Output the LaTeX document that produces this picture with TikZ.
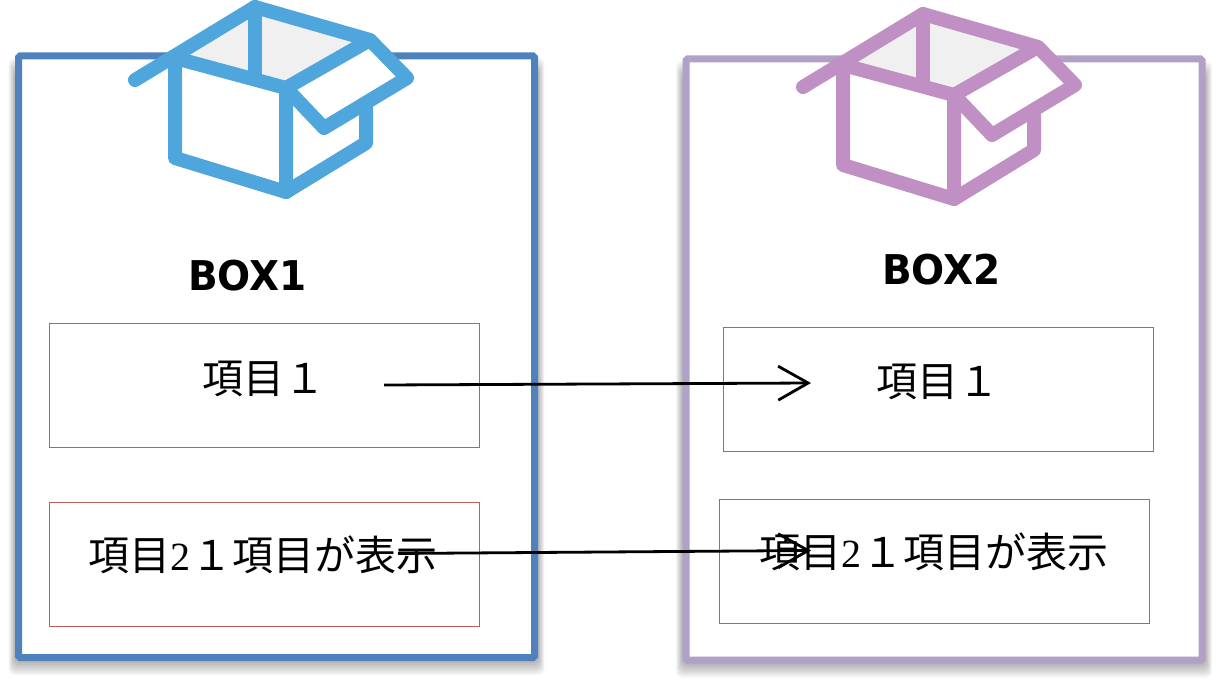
\documentclass[tikz,border=0pt]{standalone}
\usepackage{fontspec}
\usepackage{graphicx}
\usetikzlibrary{arrows.meta}
\newfontfamily\cjk{Noto Sans CJK JP}
\newfontfamily\numfont{Liberation Serif}
\newfontfamily\labfont{DejaVu Sans}
\definecolor{boxblue}{HTML}{4F81BD}
\definecolor{boxpurple}{HTML}{B1A0C7}
\definecolor{icoblue}{HTML}{4EA6DC}
\definecolor{icopink}{HTML}{C090C4}
\definecolor{lid}{HTML}{F0F0F0}
\definecolor{thinred}{HTML}{BD5F5B}
\newcommand{\cardbox}[5]{% x0 y0 x1 y1 colour
  \foreach \w in {2,4,...,14}{
    \fill[black,opacity=.045,rounded corners=6pt]
      (#1-3.5-.45*\w,#2+16-\w) rectangle (#3+3.5+.45*\w,#4+3.5+\w);}
  \draw[draw=#5,fill=white,line width=7pt,rounded corners=1.5pt] (#1,#2) rectangle (#3,#4);}
\newcommand{\boxicon}[3]{% dx dy colour
  \begin{scope}[shift={(#1,#2)},line width=14pt,draw=#3,line join=round,line cap=round]
    \fill[white] (175,58)--(255,7)--(370,40)--(407,78)--(366,104)--(366,143)--(286,192)--(175,158)--cycle;
    \fill[lid] (175,58)--(255,7)--(370,40)--(287,88)--cycle;
    \draw (135,80)--(255,7)--(370,40)--(407,78)--(324,128)--(286,88)--(370,40);
    \draw (255,7)--(255,75);
    \draw (175,58)--(286,88)--(286,192);
    \draw (175,58)--(175,158)--(286,192)--(366,143)--(366,108);
  \end{scope}}
\tikzset{
  itembox/.style={draw=thinred,line width=1pt,fill=none,inner sep=0pt,minimum width=430pt,minimum height=123.5pt,anchor=north west},
  itemtext/.style={inner sep=0pt,anchor=base west,font=\cjk\fontsize{41}{41}\selectfont},
  boxtitle/.style={inner sep=0pt,anchor=base west,font=\labfont\bfseries\fontsize{41}{41}\selectfont},
  flow/.style={line width=2.8pt,-{Straight Barb[length=30pt,width=34pt,line width=2.8pt]}}
}
\newcommand{\itemtwo}{項目\makebox[21pt]{\numfont\fontsize{40}{40}\selectfont 2}１項目が表示}
\begin{document}
\begin{tikzpicture}[x=1pt,y=-1pt]
  \useasboundingbox (0,0) rectangle (1220,687);
  \fill[white] (0,0) rectangle (1220,687);
  \cardbox{18.5}{56}{534.5}{657.5}{boxblue}
  \cardbox{686}{59}{1202}{660}{boxpurple}
  \boxicon{0}{0}{icoblue}
  \boxicon{668}{7}{icopink}
  \node[boxtitle] (t1) at (188,290) {\scalebox{.95}[1]{BOX1}};
  \node[boxtitle] (t2) at (882,284) {\scalebox{.95}[1]{BOX2}};
  \node[itembox] (a1) at (49,323) {};
  \node[itembox] (a2) at (49,502) {};
  \node[itembox] (b1) at (723,327) {};
  \node[itembox] (b2) at (719,499) {};
  \node[itemtext] (ta1) at (202,393) {項目１};
  \node[itemtext] (ta2) at (88,570) {\itemtwo};
  \node[itemtext] (tb1) at (876,396) {項目１};
  \node[itemtext] (tb2) at (759,567) {\itemtwo};
  \coordinate (s1) at (384,385);
  \coordinate (e1) at (811,383);
  \coordinate (s2) at (398,553.5);
  \coordinate (e2) at (811,550.5);
  \draw[flow] (s1) -- (e1);
  \draw[flow] (s2) -- (e2);
\end{tikzpicture}
\end{document}
